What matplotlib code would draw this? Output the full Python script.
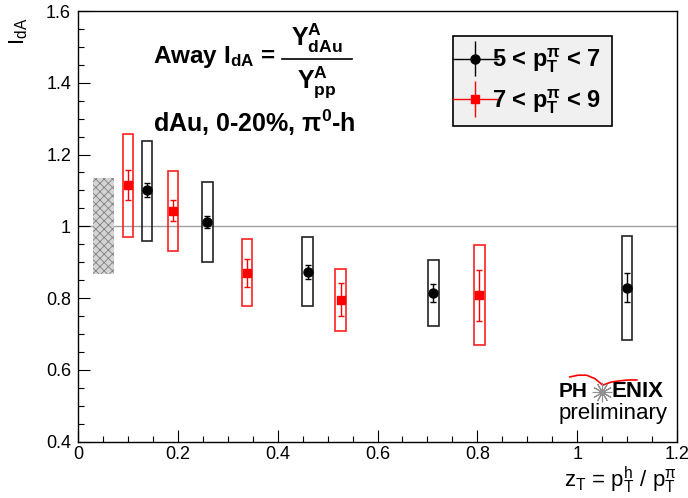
import numpy as np
import matplotlib
matplotlib.use("Agg")
import matplotlib.pyplot as plt
from matplotlib.legend_handler import HandlerErrorbar

plt.rcParams['font.family'] = ['Liberation Sans', 'DejaVu Sans']
plt.rcParams['mathtext.fontset'] = 'custom'
plt.rcParams['mathtext.rm'] = 'Liberation Sans'
plt.rcParams['mathtext.it'] = 'Liberation Sans'
plt.rcParams['mathtext.bf'] = 'Liberation Sans:bold'
plt.rcParams['hatch.linewidth'] = 0.6

# 5 < pT(pi) < 7
zt_lo = [0.138, 0.259, 0.460, 0.712, 1.100]
ida_lo = [1.101, 1.011, 0.873, 0.814, 0.829]
stat_lo = [0.020, 0.017, 0.019, 0.024, 0.040]
sysdn_lo = [0.959, 0.901, 0.778, 0.723, 0.684]
sysup_lo = [1.238, 1.122, 0.969, 0.905, 0.974]

# 7 < pT(pi) < 9
zt_hi = [0.100, 0.190, 0.339, 0.526, 0.804]
ida_hi = [1.115, 1.043, 0.870, 0.795, 0.808]
stat_hi = [0.042, 0.029, 0.040, 0.046, 0.071]
sysdn_hi = [0.971, 0.931, 0.778, 0.708, 0.669]
sysup_hi = [1.257, 1.155, 0.964, 0.881, 0.947]

# global normalisation uncertainty
norm_x = 0.051
norm_err = 0.134

labels = [r'5 < $\mathbf{p^{\pi}_{T}}$ < 7', r'7 < $\mathbf{p^{\pi}_{T}}$ < 9']


def main():
    fig = plt.figure(figsize=(6.88, 4.98), dpi=100)
    ax = fig.add_axes([78 / 688, 1 - 441.5 / 498, 599 / 688, 430.5 / 498])

    ax.axhline(1.0, color='#a0a0a0', lw=1, zorder=1)

    ax.bar(norm_x, 2 * norm_err, bottom=1 - norm_err, width=0.042,
           facecolor='#d4d4d4', edgecolor='#808080', hatch='xxxx', lw=0, zorder=1)

    lo, hi = np.array(sysdn_lo), np.array(sysup_lo)
    ax.bar(zt_lo, hi - lo, bottom=lo, width=0.021, fill=False,
           edgecolor='#222222', lw=1.2, zorder=2)
    lo, hi = np.array(sysdn_hi), np.array(sysup_hi)
    ax.bar(zt_hi, hi - lo, bottom=lo, width=0.021, fill=False,
           edgecolor='#ff2020', lw=1.2, zorder=2)

    ax.errorbar(zt_lo, ida_lo, yerr=stat_lo, fmt='o', color='black',
                ms=6.5, capsize=2, elinewidth=1, capthick=1, zorder=3)
    ax.errorbar(zt_hi, ida_hi, yerr=stat_hi, fmt='s', color='#ff0000',
                ms=6, capsize=2, elinewidth=1, capthick=1, zorder=3)

    # legend proxies (cross without caps, like the ROOT "lep" style)
    p1 = ax.errorbar([np.nan], [np.nan], xerr=[1], yerr=[1], fmt='o', color='black',
                     ms=6.5, capsize=0, elinewidth=1)
    p2 = ax.errorbar([np.nan], [np.nan], xerr=[1], yerr=[1], fmt='s', color='#ff0000',
                     ms=6, capsize=0, elinewidth=1)

    ax.set_xlim(0, 1.2)
    ax.set_ylim(0.4, 1.6)
    ax.set_xticks(np.arange(0, 1.21, 0.2))
    ax.set_xticklabels(['0', '0.2', '0.4', '0.6', '0.8', '1', '1.2'])
    ax.set_yticks(np.arange(0.4, 1.61, 0.2))
    ax.set_yticklabels(['0.4', '0.6', '0.8', '1', '1.2', '1.4', '1.6'])
    ax.set_xticks(np.arange(0, 1.2001, 0.05), minor=True)
    ax.set_yticks(np.arange(0.4, 1.6001, 0.05), minor=True)
    ax.tick_params(which='both', direction='in', labelsize=13, top=False, right=False)
    ax.tick_params(which='major', length=8.5, width=0.8)
    ax.tick_params(which='minor', length=4.5, width=0.8)
    ax.tick_params(axis='x', pad=3)
    ax.tick_params(axis='y', pad=5)
    for s in ax.spines.values():
        s.set_linewidth(1.0)

    ax.set_ylabel(r'I$_{\mathregular{dA}}$', fontsize=16, loc='top')
    ax.yaxis.set_label_coords(-0.08, 0.984)
    ax.set_xlabel(r'z$_{\mathregular{T}}$ = p$^{\mathregular{h}}_{\mathregular{T}}$ / p$^{\pi}_{\mathregular{T}}$',
                  fontsize=16, loc='right')
    ax.xaxis.set_label_coords(1.0, -0.053)

    # "Away I_dA = Y/Y" built as text + numerator + bar + denominator
    ax.text(0.125, 0.893, r'Away $\mathbf{I_{dA}}$ =', transform=ax.transAxes,
            fontsize=17.5, fontweight='bold', va='center')
    ax.text(0.399, 0.936, r'$\mathbf{Y^{A}_{dAu}}$', transform=ax.transAxes,
            fontsize=18, fontweight='bold', va='center', ha='center')
    ax.text(0.399, 0.835, r'$\mathbf{Y^{A}_{pp}}$', transform=ax.transAxes,
            fontsize=18, fontweight='bold', va='center', ha='center')
    ax.plot([0.341, 0.457], [0.888, 0.888], color='black', lw=1.2,
            transform=ax.transAxes)
    ax.text(0.125, 0.74, r'dAu, 0-20%, $\mathbf{\pi^{0}}$-h',
            transform=ax.transAxes, fontsize=18, fontweight='bold', va='center')

    leg = ax.legend([p1, p2], labels, loc='upper left', bbox_to_anchor=(0.626, 0.942),
                    borderaxespad=0, frameon=True, fancybox=False,
                    prop={'size': 17, 'weight': 'bold'},
                    handlelength=1.0, handletextpad=0.2, borderpad=0.45, labelspacing=0.5,
                    handler_map={p1: HandlerErrorbar(xerr_size=1.0, yerr_size=0.75),
                                 p2: HandlerErrorbar(xerr_size=1.0, yerr_size=0.75)})
    leg.get_frame().set_facecolor('#f0f0f0')
    leg.get_frame().set_edgecolor('black')
    leg.get_frame().set_linewidth(1.2)
    leg.get_frame().set_alpha(1)

    # PHENIX preliminary logo
    ax.plot([0.821, 0.835, 0.849, 0.863, 0.876, 0.890, 0.905, 0.920, 0.933],
            [0.150, 0.154, 0.154, 0.146, 0.131, 0.138, 0.141, 0.143, 0.143],
            color='red', lw=1.2, transform=ax.transAxes, clip_on=False)
    ax.text(0.802, 0.115, 'PH', transform=ax.transAxes, fontsize=15,
            fontweight='bold', va='center', ha='left')
    ax.plot([0.874], [0.115], marker=(12, 2, 0), ms=14, color='#909090', mew=0.8,
            transform=ax.transAxes)
    ax.text(0.890, 0.115, 'ENIX', transform=ax.transAxes, fontsize=16,
            fontweight='bold', va='center', ha='left')
    ax.text(0.984, 0.065, 'preliminary', transform=ax.transAxes, fontsize=16,
            va='center', ha='right')

    fig.savefig('out.png', dpi=100)


if __name__ == "__main__":
    main()
